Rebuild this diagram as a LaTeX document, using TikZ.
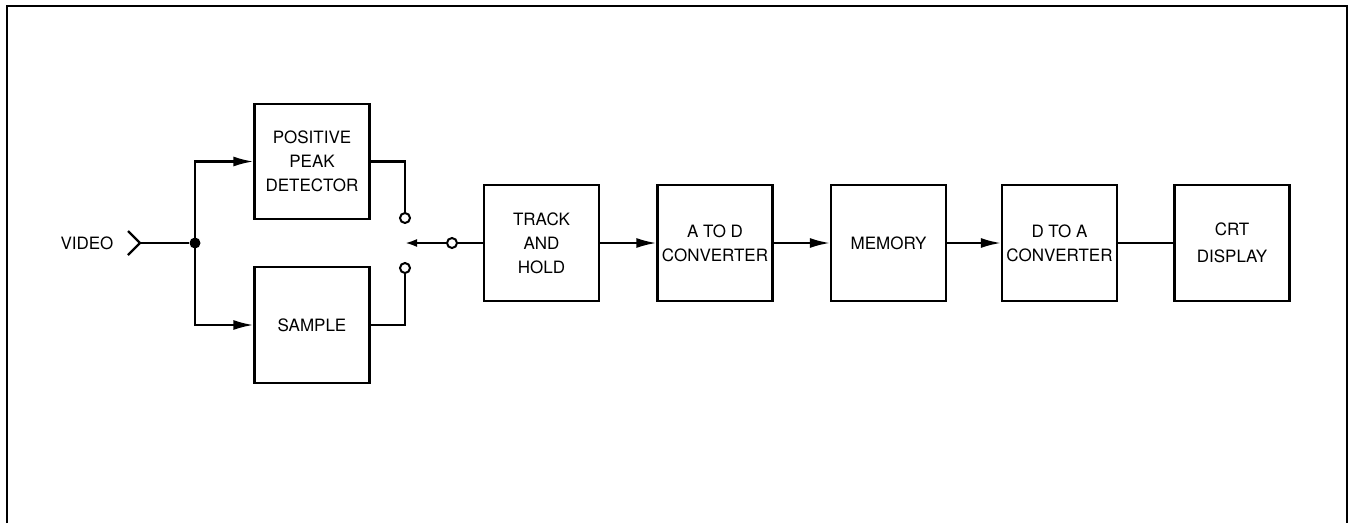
\documentclass[tikz,border=0pt]{standalone}
\usepackage{fontspec}
\setmainfont{TeX Gyre Heros}
\usetikzlibrary{arrows.meta}
\tikzset{
  wire/.style={line width=2.2pt},
  blk/.style={draw, line width=2.2pt, minimum width=115pt, minimum height=116pt, inner sep=0pt, align=center, font=\fontsize{17}{24}\selectfont},
  term/.style={circle, draw, line width=2pt, minimum size=10pt, inner sep=0pt},
  jdot/.style={circle, fill, minimum size=11pt, inner sep=0pt},
  big/.style={-{Latex[length=20pt,width=10pt]}},
  small/.style={-{Latex[length=12pt,width=8pt]}},
  lbl/.style={font=\fontsize{17}{24}\selectfont}
}
\begin{document}
\begin{tikzpicture}[x=1pt,y=-1pt]
\useasboundingbox (0,0) rectangle (1349,523);
% frame (open at the bottom)
\draw[line width=2.5pt] (7,523) -- (7,6) -- (1347,6) -- (1347,523);

\node[blk, minimum height=115pt] (ppd) at (312,161.5) {POSITIVE\\PEAK\\DETECTOR};
\node[blk] (smp) at (312,325) {SAMPLE};
\node[blk] (th) at (541.5,243) {TRACK\\AND\\HOLD};
\node[blk] (ad) at (715,243) {A TO D\\CONVERTER};
\node[blk] (mem) at (888.5,243) {MEMORY};
\node[blk] (da) at (1059.5,243) {D TO A\\CONVERTER};
\node[blk, font=\fontsize{17}{27}\selectfont] (crt) at (1232,243) {CRT\\DISPLAY};

\node[lbl] (vid) at (87,243) {VIDEO};
\coordinate (v) at (140,243);
\coordinate (va) at (128,231);
\coordinate (vb) at (128,255);
\node[jdot] (j) at (195,243) {};

\node[term] (c1) at (405,218) {};
\node[term] (c2) at (405,268) {};
\node[term] (c3) at (452,243) {};
\coordinate (tip) at (405,243);

\draw[wire] (va) -- (v) -- (vb);
\draw[wire] (v) -- (j);
\draw[wire, big] (j.center) |- (ppd.west);
\draw[wire, big] (j.center) |- (smp.west);
\draw[wire] (ppd.east) -| (c1.north);
\draw[wire] (smp.east) -| (c2.south);
\draw[wire, small] (c3.west) -- (tip);
\draw[wire] (c3.east) -- (th.west);
\draw[wire, big] (th) -- (ad);
\draw[wire, big] (ad) -- (mem);
\draw[wire, big] (mem) -- (da);
\draw[wire] (da) -- (crt);
\end{tikzpicture}
\end{document}
